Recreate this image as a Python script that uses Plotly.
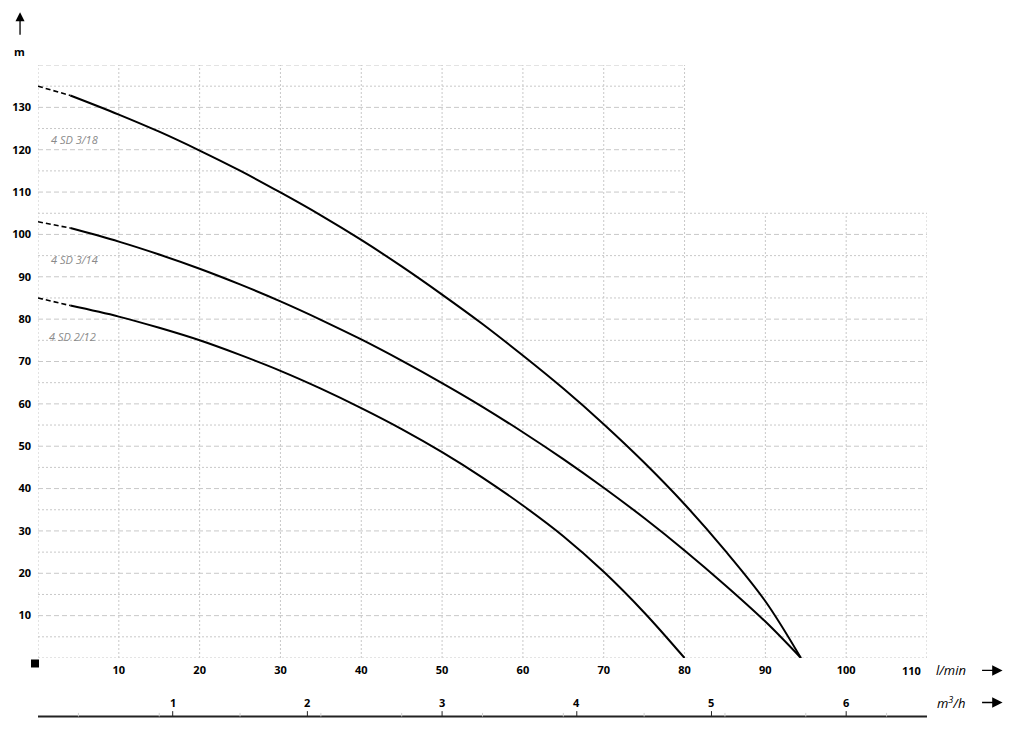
import plotly.graph_objects as go

# ---- data ----
q_318 = [4, 10, 15, 20, 25, 30, 35, 40, 45, 50, 55, 60, 65, 70, 75, 80, 85, 90, 94.4]
h_318 = [132.8, 128.3, 124.25, 119.8, 115.05, 109.9, 104.5, 98.7, 92.45, 85.8, 78.85,
         71.4, 63.6, 55.2, 46.15, 36.3, 25.4, 13.4, 0]
q_318_ext = [0, 4]
h_318_ext = [135, 132.8]

q_314 = [4, 10, 15, 20, 25, 30, 35, 40, 45, 50, 55, 60, 65, 70, 75, 80, 85, 90, 94.4]
h_314 = [101.5, 98.3, 95.25, 91.9, 88.2, 84.2, 79.85, 75.2, 70.2, 64.9, 59.3,
         53.3, 46.95, 40.2, 33.05, 25.4, 17.25, 8.6, 0]
q_314_ext = [0, 4]
h_314_ext = [103, 101.5]

q_212 = [4, 10, 15, 20, 25, 30, 35, 40, 45, 50, 55, 60, 65, 70, 75, 80]
h_212 = [83.2, 80.6, 77.95, 75.0, 71.55, 67.8, 63.6, 59.0, 54.05, 48.6, 42.6,
         36.0, 28.75, 20.35, 10.75, 0]
q_212_ext = [0, 4]
h_212_ext = [85, 83.2]

curve_names = ["4 SD 3/18", "4 SD 3/14", "4 SD 2/12"]
label_pos_q = [1.4, 1.4, 1.1]
label_pos_h = [122.5, 94.2, 76]

x_ticks = [10, 20, 30, 40, 50, 60, 70, 80, 90, 100]
x_last_tick = 110     # drawn nudged left, clear of the unit label
y_ticks = [10, 20, 30, 40, 50, 60, 70, 80, 90, 100, 110, 120, 130]
m3h_ticks = [1, 2, 3, 4, 5, 6]
minor_lmin = [5, 15, 25, 35, 45, 55, 65, 75, 85, 95, 105]

X_MAX = 110
Y_MAX = 140
GRID_SPLIT_X = 80     # tall grid ends here
GRID_LOW_TOP = 105    # height of the right-hand grid block

FONT = "Open Sans"
GRID_COL = "#c8c8c8"

fig = go.Figure()

series = [
    (q_318, h_318, q_318_ext, h_318_ext),
    (q_314, h_314, q_314_ext, h_314_ext),
    (q_212, h_212, q_212_ext, h_212_ext),
]
for q, h, qe, he in series:
    fig.add_trace(go.Scatter(x=q, y=h, mode="lines",
                             line=dict(color="black", width=2, shape="spline", smoothing=1.0),
                             showlegend=False, hoverinfo="skip"))
    fig.add_trace(go.Scatter(x=qe, y=he, mode="lines",
                             line=dict(color="black", width=1.6, dash="5px,3px"),
                             showlegend=False, hoverinfo="skip"))

shapes = []
# vertical grid lines
for v in range(0, X_MAX + 1, 10):
    top = Y_MAX if v <= GRID_SPLIT_X else GRID_LOW_TOP
    shapes.append(dict(type="line", xref="x", yref="y", x0=v, x1=v, y0=0, y1=top,
                       line=dict(color=GRID_COL, width=1, dash="2px,2px"), layer="below"))
# horizontal grid lines
for hv in range(0, Y_MAX + 1, 5):
    right = X_MAX if hv <= GRID_LOW_TOP else GRID_SPLIT_X
    dash = "5px,3px" if (hv % 10 == 0 and hv > 0) else "2px,2px"
    shapes.append(dict(type="line", xref="x", yref="y", x0=0, x1=right, y0=hv, y1=hv,
                       line=dict(color=GRID_COL, width=1, dash=dash), layer="below"))

# second (m3/h) scale below the plot
AX2_Y = -0.0986
shapes.append(dict(type="line", xref="x", yref="paper", x0=0, x1=X_MAX, y0=AX2_Y, y1=AX2_Y,
                   line=dict(color="#222222", width=2)))
for mq in minor_lmin:
    shapes.append(dict(type="line", xref="x", yref="paper", x0=mq, x1=mq,
                       y0=AX2_Y, y1=AX2_Y + 0.006, line=dict(color="#d0d0d0", width=1)))
for t in m3h_ticks:
    lm = t * 1000 / 60
    shapes.append(dict(type="line", xref="x", yref="paper", x0=lm, x1=lm,
                       y0=AX2_Y, y1=AX2_Y + 0.009, line=dict(color="#222222", width=1)))

# small black square at origin
shapes.append(dict(type="rect", xref="paper", yref="paper", x0=-0.0079, x1=0.0011,
                   y0=-0.016, y1=-0.0025, fillcolor="black", line=dict(width=0)))

annotations = []
for name, qx, hy in zip(curve_names, label_pos_q, label_pos_h):
    annotations.append(dict(x=qx, y=hy, xref="x", yref="y", text=name, showarrow=False,
                            xanchor="left", yanchor="middle",
                            font=dict(family=FONT, size=11, color="#8a8a8a", style="italic")))
for t in m3h_ticks:
    annotations.append(dict(x=t * 1000 / 60, y=-0.075, xref="x", yref="paper", text=str(t),
                            showarrow=False, xanchor="center", yanchor="middle",
                            font=dict(family=FONT, size=11, color="black", weight="bold")))

annotations += [
    dict(x=x_last_tick, y=-0.021, xref="x", yref="paper", text=str(x_last_tick),
         showarrow=False, xanchor="center", yanchor="middle", xshift=-16,
         font=dict(family=FONT, size=11, color="black", weight="bold")),
    dict(x=1.027, y=-0.021, xref="paper", yref="paper", text="l/min", showarrow=False,
         xanchor="center", yanchor="middle",
         font=dict(family=FONT, size=13, color="black", style="italic")),
    dict(x=1.027, y=-0.075, xref="paper", yref="paper", text="m<sup>3</sup>/h", showarrow=False,
         xanchor="center", yanchor="middle",
         font=dict(family=FONT, size=13, color="black", style="italic")),
    dict(x=1.085, y=-0.021, xref="paper", yref="paper", ax=-22, ay=0, text="",
         showarrow=True, arrowhead=2, arrowsize=1.6, arrowwidth=1.3, arrowcolor="black"),
    dict(x=1.085, y=-0.075, xref="paper", yref="paper", ax=-22, ay=0, text="",
         showarrow=True, arrowhead=2, arrowsize=1.6, arrowwidth=1.3, arrowcolor="black"),
    dict(x=-0.0202, y=1.089, xref="paper", yref="paper", ax=0, ay=24, text="",
         showarrow=True, arrowhead=2, arrowsize=1.4, arrowwidth=1.3, arrowcolor="black"),
    dict(x=-0.0213, y=1.022, xref="paper", yref="paper", text="m", showarrow=False,
         xanchor="center", yanchor="middle",
         font=dict(family=FONT, size=11, color="black", weight="bold")),
]

fig.update_layout(
    width=1012, height=730,
    margin=dict(l=36, r=85, t=65, b=71.5, pad=0),
    paper_bgcolor="white", plot_bgcolor="white",
    shapes=shapes, annotations=annotations,
    xaxis=dict(range=[0, X_MAX], showgrid=False, zeroline=False, showline=False,
               tickvals=x_ticks, ticks="", ticklabelstandoff=4,
               tickfont=dict(family=FONT, size=11, color="black", weight="bold")),
    yaxis=dict(range=[0, Y_MAX], showgrid=False, zeroline=False, showline=False,
               tickvals=y_ticks, ticks="", ticklabelstandoff=6,
               tickfont=dict(family=FONT, size=11, color="black", weight="bold")),
)

fig.write_html("out.html", config={"displayModeBar": False},
               post_script="document.body.style.margin='0px';document.body.style.padding='0px';")
